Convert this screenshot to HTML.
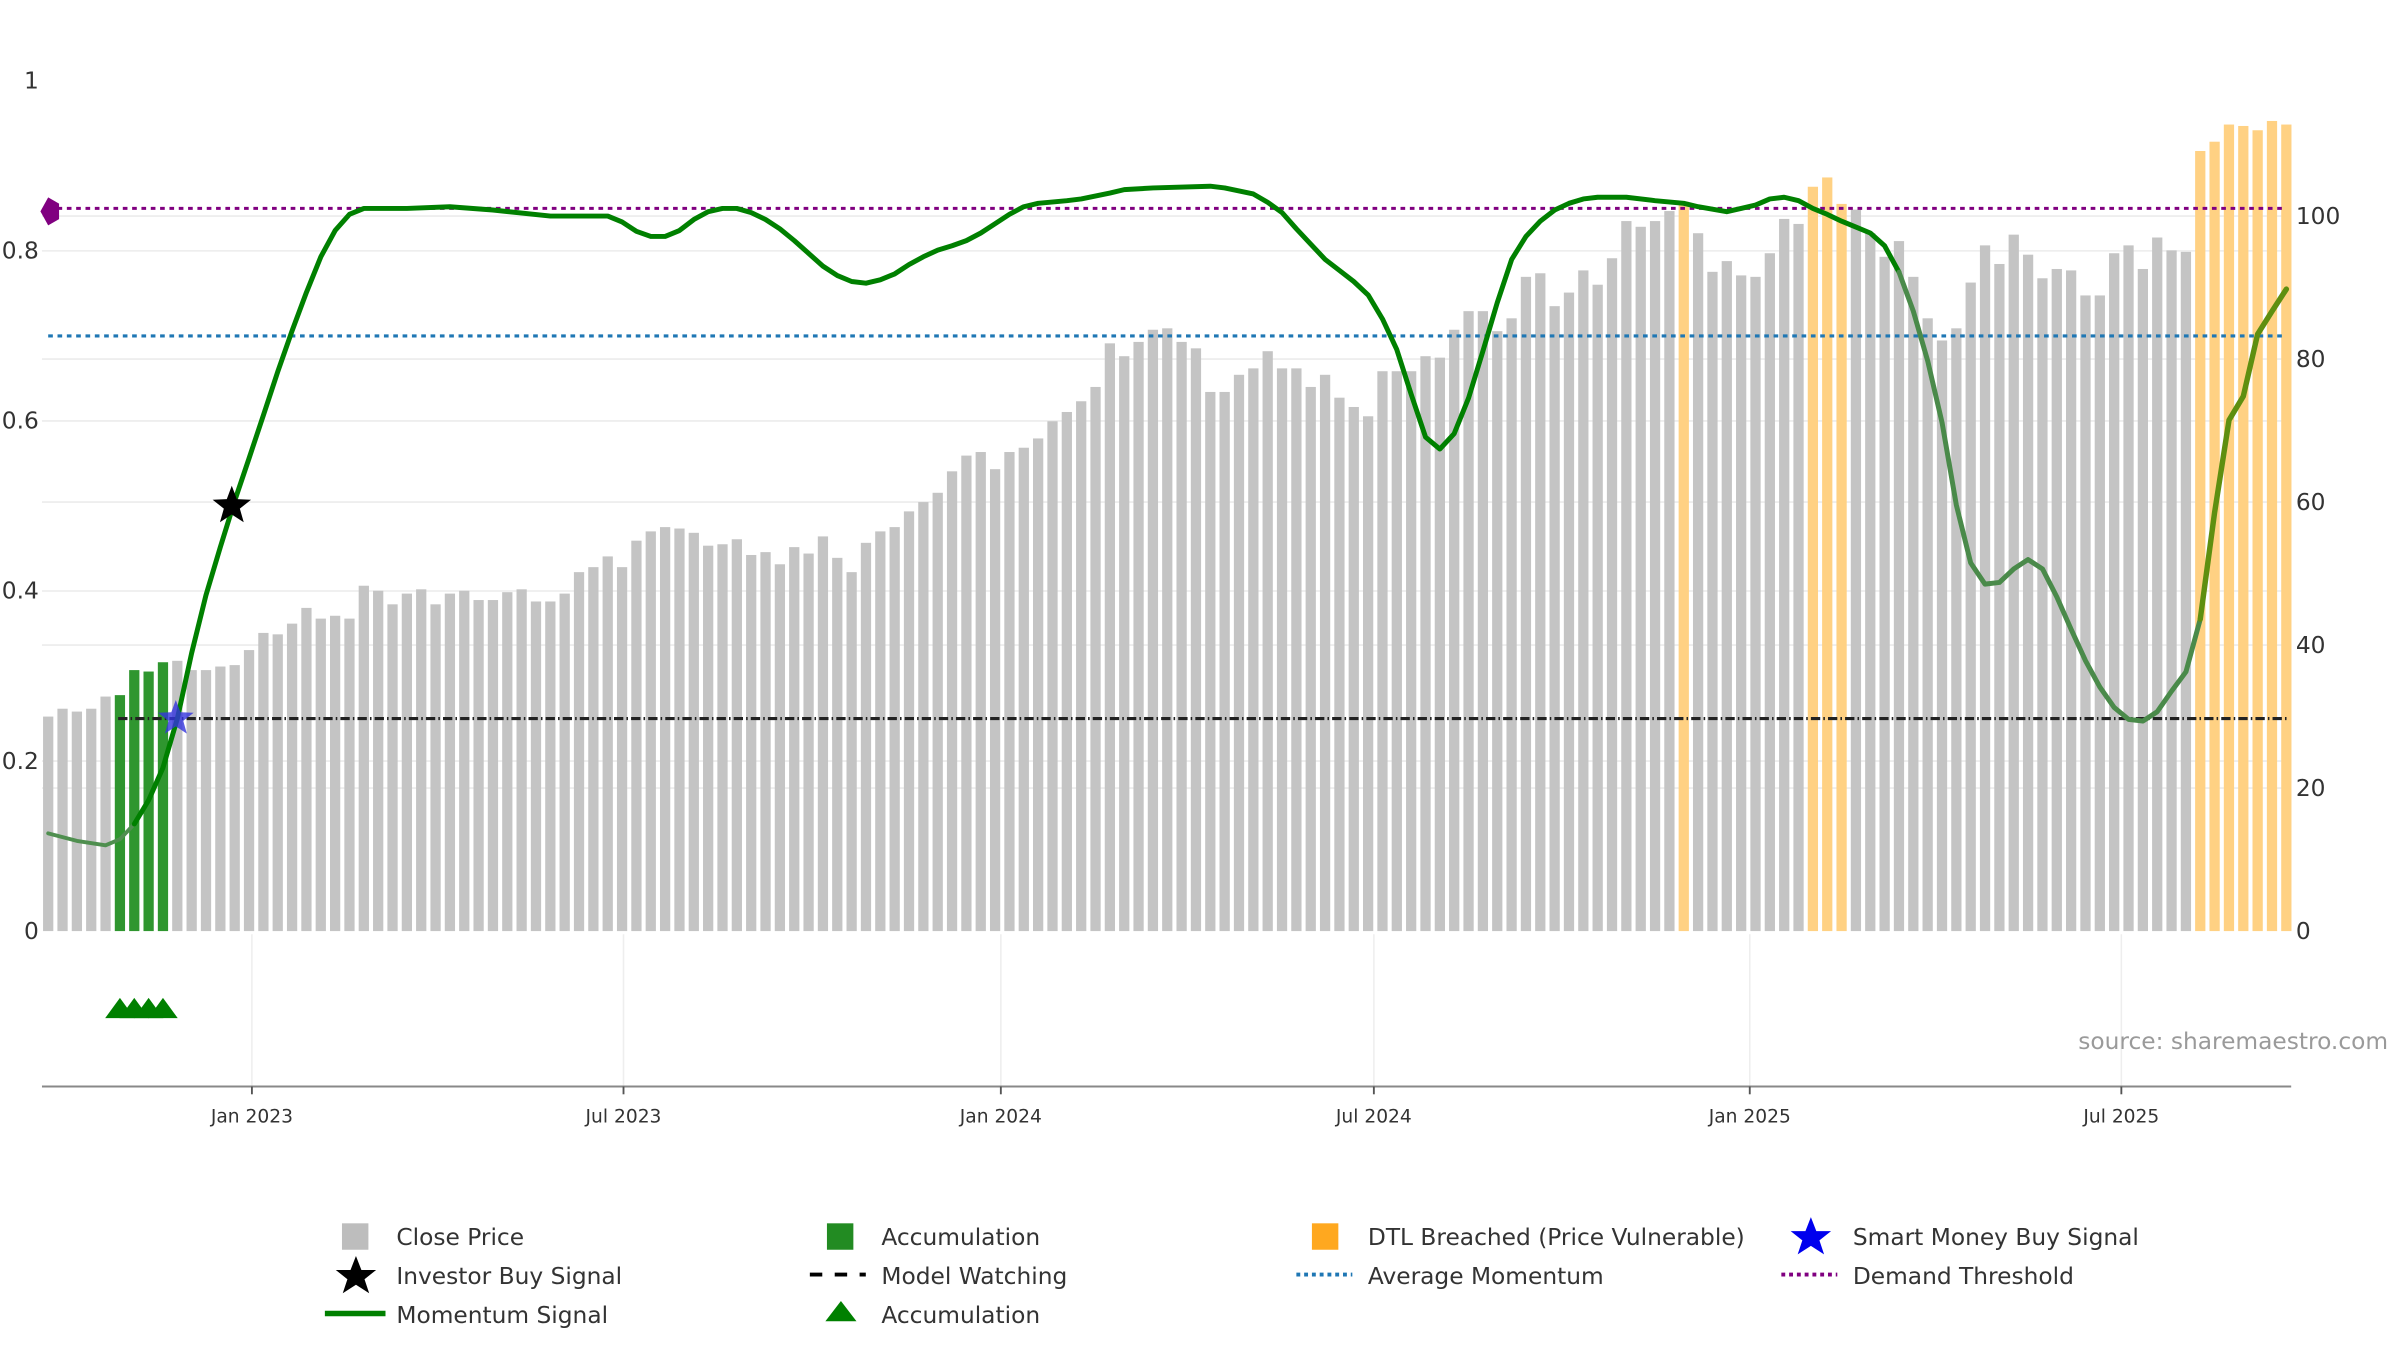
<!DOCTYPE html>
<html><head><meta charset="utf-8"><style>
html,body{margin:0;padding:0;background:#fff;}
svg{display:block;font-family:"DejaVu Sans","Liberation Sans",sans-serif;}
</style></head><body>
<svg id="chart" width="2400" height="1350" viewBox="0 0 1544 868.5" xmlns="http://www.w3.org/2000/svg">
<g id="grid"></g>
<g id="bars"></g>
<g id="refs"></g>
<g id="lines"></g>
<g id="marks"></g>
<g id="axes"></g>
<text x="1337" y="675" font-size="15" fill="#9a9a9a">source: sharemaestro.com</text>
<g id="legend" font-size="15" fill="#333">
  <rect x="220" y="787" width="17" height="17" fill="#bdbdbd"/>
  <text x="255" y="801">Close Price</text>
  <rect x="532" y="787" width="17" height="17" fill="#228b22"/>
  <text x="567" y="801">Accumulation</text>
  <rect x="844" y="787" width="17" height="17" fill="#ffa81f"/>
  <text x="880" y="801">DTL Breached (Price Vulnerable)</text>
  <polygon points="1165,783 1168.5,792 1178,792 1170.5,798 1173.5,807 1165,801.5 1156.5,807 1159.5,798 1152,792 1161.5,792" fill="#0000ee"/>
  <text x="1192" y="801">Smart Money Buy Signal</text>
  <polygon points="229,808 232.5,817 242,817 234.5,823 237.5,832 229,826.5 220.5,832 223.5,823 216,817 225.5,817" fill="#000"/>
  <text x="255" y="826">Investor Buy Signal</text>
  <line x1="521" y1="820" x2="557" y2="820" stroke="#000" stroke-width="2.5" stroke-dasharray="8,8"/>
  <text x="567" y="826">Model Watching</text>
  <line x1="834" y1="820" x2="870" y2="820" stroke="#1f77b4" stroke-width="2.5" stroke-dasharray="2.5,2.5"/>
  <text x="880" y="826">Average Momentum</text>
  <line x1="1146" y1="820" x2="1182" y2="820" stroke="#800080" stroke-width="2.5" stroke-dasharray="2.5,2.5"/>
  <text x="1192" y="826">Demand Threshold</text>
  <line x1="209" y1="845" x2="248" y2="845" stroke="#008000" stroke-width="3.5"/>
  <text x="255" y="851">Momentum Signal</text>
  <polygon points="541,837 551,850 531,850" fill="#008000"/>
  <text x="567" y="851">Accumulation</text>
</g>
</svg>
<script>
const closePrices=[30.0,31.1,30.7,31.1,32.8,33.0,36.5,36.3,37.6,37.8,
36.5,36.5,37.0,37.2,39.3,41.7,41.5,43.0,45.2,43.7,
44.1,43.7,48.3,47.6,45.7,47.2,47.8,45.7,47.2,47.6,
46.3,46.3,47.4,47.8,46.1,46.1,47.2,50.2,50.9,52.4,
50.9,54.6,55.9,56.5,56.3,55.7,53.9,54.1,54.8,52.6,
53.0,51.3,53.7,52.8,55.2,52.2,50.2,54.3,55.9,56.5,
58.7,60.0,61.3,64.3,66.5,67.0,64.6,67.0,67.6,68.9,
71.3,72.6,74.1,76.1,82.2,80.4,82.4,84.1,84.3,82.4,
81.5,75.4,75.4,77.8,78.7,81.1,78.7,78.7,76.1,77.8,
74.6,73.3,72.0,78.3,78.3,78.3,80.4,80.2,84.1,86.7,
86.7,83.9,85.7,91.5,92.0,87.4,89.3,92.4,90.4,94.1,
99.3,98.5,99.3,100.7,102.0,97.6,92.2,93.7,91.7,91.5,
94.8,99.6,98.9,104.1,105.4,101.7,100.9,97.6,94.3,96.5,
91.5,85.7,82.6,84.3,90.7,95.9,93.3,97.4,94.6,91.3,
92.6,92.4,88.9,88.9,94.8,95.9,92.6,97.0,95.2,95.0,
109.1,110.4,112.8,112.6,112.0,113.3,112.8];
const accumulationWeeks=[5,6,7,8];
const dtlWeeks=[114,123,124,125,150,151,152,153,154,155,156];
const momentumWeeks=[0,2,4,5,6,7,8,9,10,11,12,13,14,15,16,17,18,19,20,21,22,25,28,31,35,39,40,41,42,43,44,45,46,47,48,49,50,51,52,53,54,55,56,57,58,59,60,61,62,63,64,65,66,67,68,69,71,72,74,75,77,81,82,84,85,86,87,88,89,90,91,92,93,94,95,96,97,98,99,100,101,102,103,104,105,106,107,108,110,112,114,115,117,118,119,120,121,122,123,124,125,126,127,128,129,130,131,132,133,134,135,136,137,138,139,140,141,142,143,144,145,146,147,148,149,150,151,152,153,154,155,156];
const momentumValues=[0.115,0.106,0.101,0.108,0.126,0.154,0.192,0.250,0.327,0.395,0.452,0.506,0.556,0.607,0.658,0.706,0.751,0.793,0.824,0.843,0.850,0.850,0.852,0.848,0.841,0.841,0.834,0.823,0.817,0.817,0.824,0.837,0.846,0.850,0.850,0.845,0.837,0.826,0.812,0.797,0.782,0.771,0.764,0.762,0.766,0.773,0.784,0.793,0.801,0.806,0.812,0.821,0.832,0.843,0.852,0.856,0.859,0.861,0.868,0.872,0.874,0.876,0.874,0.867,0.857,0.845,0.826,0.808,0.790,0.777,0.764,0.748,0.720,0.684,0.631,0.581,0.567,0.585,0.627,0.682,0.739,0.790,0.817,0.835,0.848,0.856,0.861,0.863,0.863,0.859,0.856,0.852,0.846,0.850,0.854,0.861,0.863,0.859,0.850,0.843,0.835,0.828,0.821,0.806,0.775,0.729,0.671,0.598,0.501,0.433,0.408,0.410,0.426,0.437,0.426,0.393,0.355,0.318,0.287,0.263,0.249,0.247,0.258,0.282,0.305,0.367,0.492,0.601,0.629,0.702,0.729,0.755];
const leftTicks=["0","0.2","0.4","0.6","0.8","1"];
const leftTickValues=[0,0.2,0.4,0.6,0.8,1];
const rightTickValues=[0,20,40,60,80,100];
const xTickLabels=["Jan 2023","Jul 2023","Jan 2024","Jul 2024","Jan 2025","Jul 2025"];
const xTickWeeks=[14.2,40.1,66.4,92.4,118.6,144.5];
const demandThreshold=0.85, averageMomentum=0.7, modelWatching=0.25;
const investorBuy={week:12.8,value:0.5};
const smartMoneyBuy={week:8.9,value:0.25};
const accumulationMarkerWeeks=[5,6,7,8];

const NS="http://www.w3.org/2000/svg";
const xS=i=>31+i*9.23;
const yL=v=>599-v*547;
const yR=v=>599-v*4.6;
function mk(tag,attrs,parent){const e=document.createElementNS(NS,tag);for(const k in attrs)e.setAttribute(k,attrs[k]);parent.appendChild(e);return e;}
const grid=document.getElementById('grid'),bars=document.getElementById('bars'),refs=document.getElementById('refs'),lines=document.getElementById('lines'),marks=document.getElementById('marks'),axes=document.getElementById('axes');

leftTickValues.forEach((v,i)=>{
  if(v>0&&v<1){const g=mk('line',{x1:27,x2:1474,y1:yL(v),y2:yL(v),stroke:'#ececec','stroke-width':1},grid);
  
  }
  const t=mk('text',{x:25,y:yL(v)+5,'text-anchor':'end','font-size':15,fill:'#333'},axes);t.textContent=leftTicks[i];
  
  
});
rightTickValues.forEach(v=>{
  if(v>0){const g=mk('line',{x1:27,x2:1474,y1:yR(v),y2:yR(v),stroke:'#ececec','stroke-width':1},grid);
  
  }
  const t=mk('text',{x:1477,y:yR(v)+5,'font-size':15,fill:'#333'},axes);t.textContent=v;
  
  
});
closePrices.forEach((v,i)=>{
  let c='#c4c4c4';
  if(accumulationWeeks.includes(i))c='#2f962f';
  if(dtlWeeks.includes(i))c='#ffd183';
  const b=mk('rect',{x:xS(i)-3.3,y:yR(v),width:6.6,height:599-yR(v),fill:c},bars);
  
  
});
const l1=mk('line',{x1:31,x2:1471,y1:yL(demandThreshold),y2:yL(demandThreshold),stroke:'#800080','stroke-width':2,'stroke-dasharray':'3,3'},refs);


const l2=mk('line',{x1:31,x2:1471,y1:yL(averageMomentum),y2:yL(averageMomentum),stroke:'#1f77b4','stroke-width':2,'stroke-dasharray':'3,3'},refs);


const l3=mk('line',{x1:76,x2:1471,y1:yL(modelWatching),y2:yL(modelWatching),stroke:'#222','stroke-width':2,'stroke-dasharray':'6,2,1,2'},refs);



function seg(from,to,color,w,name){
  let d='';momentumWeeks.forEach((wk,i)=>{if(wk>=from&&wk<=to)d+=(d?'L':'M')+xS(wk).toFixed(1)+','+yL(momentumValues[i]).toFixed(1);});
  const p=mk('path',{d:d,fill:'none',stroke:color,'stroke-width':w,'stroke-linejoin':'round','stroke-linecap':'round'},lines);
  
  
}
seg(0,6,'#4f8f4f',2.5,'momentum-low-segment');
seg(6,129,'#008000',3.2,'momentum-signal-line');
seg(129,150,'#4a8a4a',3.2,'momentum-weak-segment');
seg(150,156,'#5f8f10',3.5,'momentum-recovery-segment');

function star(cx,cy,r,fill,op,name){
  let pts=[];for(let k=0;k<10;k++){const a=-Math.PI/2+k*Math.PI/5;const rr=k%2?r*0.42:r;pts.push((cx+rr*Math.cos(a)).toFixed(1)+','+(cy+rr*Math.sin(a)).toFixed(1));}
  const s=mk('polygon',{points:pts.join(' '),fill:fill,'fill-opacity':op},marks);
  
  
}
star(xS(investorBuy.week),yL(investorBuy.value),13,'#000',1,'investor-buy-star');
star(xS(smartMoneyBuy.week),yL(smartMoneyBuy.value),12,'#3333dd',0.8,'smart-money-buy-star');
const dm=mk('polygon',{points:'26,136 31,127 38,131 38,141 31,145',fill:'#800080'},marks);


accumulationMarkerWeeks.forEach(w=>{
  const x=xS(w);
  const t=mk('polygon',{points:`${x},642 ${x+9.5},655 ${x-9.5},655`,fill:'#008000'},marks);
  
  
});
const ax=mk('line',{x1:27,x2:1474,y1:699,y2:699,stroke:'#888','stroke-width':1.3},axes);


xTickWeeks.forEach((w,i)=>{
  const x=xS(w);
  const g=mk('line',{x1:x,x2:x,y1:601,y2:699,stroke:'#eeeeee','stroke-width':1},grid);
  
  
  const tk=mk('line',{x1:x,x2:x,y1:699,y2:704,stroke:'#555','stroke-width':1.2},axes);
  
  
  const t=mk('text',{x:x,y:722,'text-anchor':'middle','font-size':12,fill:'#333'},axes);t.textContent=xTickLabels[i];
  
  
});
</script>
</body></html>
